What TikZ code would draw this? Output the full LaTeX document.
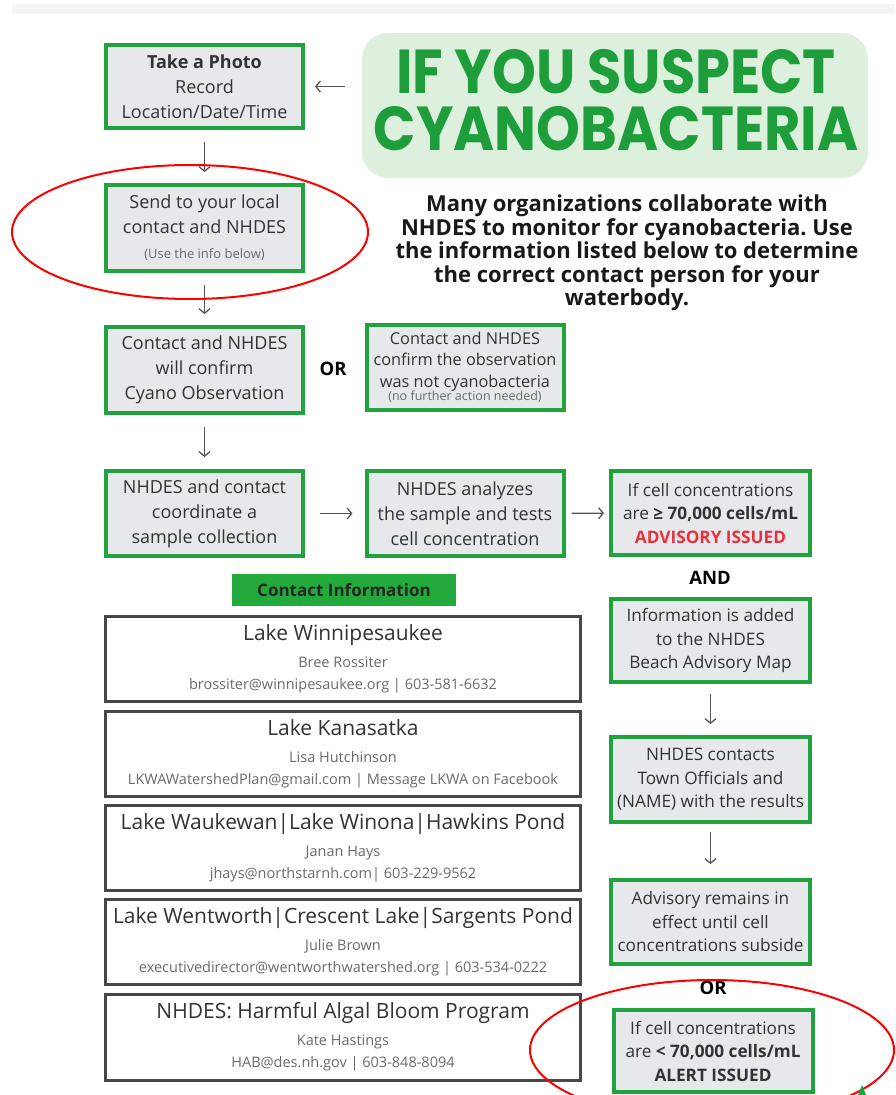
\documentclass[tikz,border=0pt]{standalone}
\usepackage{fontspec}
\usepackage{graphicx}
\setmainfont{Open Sans}
\newfontfamily\titlefont{Poppins}
\usetikzlibrary{arrows.meta}
\frenchspacing
\definecolor{gborder}{HTML}{22A23C}
\definecolor{boxfill}{HTML}{E6E8EC}
\definecolor{titlebg}{HTML}{DDEFDD}
\definecolor{titlegreen}{HTML}{1E9E3A}
\definecolor{txt}{HTML}{333333}
\definecolor{advred}{HTML}{E5323C}
\definecolor{cborder}{HTML}{474747}
\definecolor{subgray}{HTML}{6A6A6A}
\definecolor{banner}{HTML}{22AA3C}
\definecolor{arrgray}{HTML}{555555}
\begin{document}
\frenchspacing
\begin{tikzpicture}[x=1pt,y=-1pt,
  gbox/.style={draw=gborder, line width=4pt, fill=boxfill, minimum width=197pt, minimum height=84pt, align=center, text=txt, font=\fontsize{18}{25}\selectfont, inner sep=0pt},
  rbox/.style={gbox, font=\fontsize{17.2}{23.5}\selectfont},
  cbox/.style={draw=cborder, line width=3pt, fill=white, minimum width=475pt, minimum height=85pt, align=center, text=txt, font=\fontsize{14.5}{22}\selectfont, inner sep=0pt},
  arr/.style={draw=arrgray, line width=1.3pt, -{Straight Barb[length=4.5pt,width=11pt]}},
  ring/.style={draw=red, line width=2pt},
  conj/.style={font=\bfseries\fontsize{18.5}{20}\selectfont, text=black}
]
\useasboundingbox (0,0) rectangle (895,1095);
\fill[white] (0,0) rectangle (895,1095);
\fill[black!4] (12,4) rectangle (895,14);

% title
\node[fill=titlebg, rounded corners=26pt, minimum width=506pt, minimum height=145pt, inner sep=0pt] (title) at (615,105.5) {};
\node[text=titlegreen, align=center, font=\titlefont\bfseries\fontsize{62}{57}\selectfont] (titletext) at (616,100) {\scalebox{0.9}[1]{IF YOU SUSPECT}\\\scalebox{0.9}[1]{CYANOBACTERIA}};

\node[align=center, text=black!90, font=\bfseries\fontsize{22}{23.5}\selectfont] (para) at (627,253) {Many organizations collaborate with\\NHDES to monitor for cyanobacteria. Use\\the information listed below to determine\\the correct contact person for your\\waterbody.};

% left column
\node[gbox, minimum height=83pt] (b1) at (204.5,86.5) {\textbf{Take a Photo}\\Record\\Location/Date/Time};
\node[gbox, minimum height=86pt] (b2) at (204.5,228) {Send to your local\\contact and NHDES\\{\fontsize{13}{12}\selectfont\color{subgray}(Use the info below)}};
\node[gbox, minimum height=86pt] (b3) at (204.5,370) {Contact and NHDES\\will confirm\\Cyano Observation};
\node[gbox, minimum height=85pt, font=\fontsize{16.3}{21.5}\selectfont] (b4) at (465,367.5) {Contact and NHDES\\confirm the observation\\was not cyanobacteria\\[-8pt]{\fontsize{12.5}{12}\selectfont\color{subgray}(no further action needed)}};
\node[conj] (or1) at (333,369) {OR};
\node[gbox, minimum height=85pt] (b5) at (204.5,513.5) {NHDES and contact\\coordinate a\\sample collection};
\node[gbox, minimum height=85pt] (b6) at (465,513.5) {NHDES analyzes\\the sample and tests\\cell concentration};

% right column
\node[rbox, minimum height=84pt, minimum width=199pt] (b7) at (710.5,513) {If cell concentrations\\are \textbf{≥ 70,000 cells/mL}\\\textcolor{advred}{\textbf{ADVISORY ISSUED}}};
\node[conj] (and) at (710,578) {AND};
\node[rbox, minimum height=83pt, minimum width=199pt] (b8) at (710.5,640.5) {Information is added\\to the NHDES\\Beach Advisory Map};
\node[rbox, minimum height=85pt, minimum width=199pt] (b9) at (710.5,779.5) {NHDES contacts\\Town Officials and\\(NAME) with the results};
\node[rbox, minimum height=84pt, minimum width=199pt] (b10) at (710.5,922) {Advisory remains in\\effect until cell\\concentrations subside};
\node[conj] (or2) at (713,988) {OR};
\node[rbox, minimum height=82pt, minimum width=199pt] (b11) at (713,1051) {If cell concentrations\\are \textbf{< 70,000 cells/mL}\\\textbf{ALERT ISSUED}};

% arrows
\draw[arr, shorten <=17pt, shorten >=10pt] (title.west |- b1.east) -- (b1.east);
\draw[arr, shorten <=12pt, shorten >=11pt] (b1) -- (b2);
\draw[arr, shorten <=12pt, shorten >=11pt] (b2) -- (b3);
\draw[arr, shorten <=12pt, shorten >=12pt] (b3) -- (b5);
\draw[arr, shorten <=15pt, shorten >=12pt] (b5) -- (b6);
\draw[arr, shorten <=6pt, shorten >=5pt] (b6) -- (b7);
\draw[arr, shorten <=10pt, shorten >=11pt] (b8) -- (b9);
\draw[arr, shorten <=8pt, shorten >=14pt] (b9) -- (b10);

% contacts
\node[fill=banner, minimum width=224pt, minimum height=32pt, inner sep=0pt, font=\bfseries\fontsize{17}{18}\selectfont, text=black!85] (banner) at (344,590) {Contact Information};
\node[cbox, minimum height=85pt] (c1) at (343,658.5) {{\fontsize{21}{24}\selectfont Lake Winnipesaukee}\\[5pt]{\color{subgray}Bree Rossiter}\\{\color{subgray}brossiter@winnipesaukee.org | 603-581-6632}};
\node[cbox, minimum height=85pt] (c2) at (343,753.5) {{\fontsize{21}{24}\selectfont Lake Kanasatka}\\[5pt]{\color{subgray}Lisa Hutchinson}\\{\color{subgray}LKWAWatershedPlan@gmail.com | Message LKWA on Facebook}};
\node[cbox, minimum height=85pt] (c3) at (343,847.5) {{\fontsize{21}{24}\selectfont Lake Waukewan|Lake Winona|Hawkins Pond}\\[5pt]{\color{subgray}Janan Hays}\\{\color{subgray}jhays@northstarnh.com| 603-229-9562}};
\node[cbox, minimum height=85pt] (c4) at (343,941.5) {{\fontsize{21}{24}\selectfont Lake Wentworth|Crescent Lake|Sargents Pond}\\[5pt]{\color{subgray}Julie Brown}\\{\color{subgray}executivedirector@wentworthwatershed.org | 603-534-0222}};
\node[cbox, minimum height=86pt] (c5) at (343,1037) {{\fontsize{21}{24}\selectfont NHDES: Harmful Algal Bloom Program}\\[5pt]{\color{subgray}Kate Hastings}\\{\color{subgray}HAB@des.nh.gov | 603-848-8094}};

% red ellipses
\draw[ring] (190,232) ellipse [x radius=178pt, y radius=67pt];
\draw[ring] (712,1050) ellipse [x radius=182pt, y radius=70pt];
\fill[gborder] (858,1095) -- (862,1085) -- (866,1095) -- cycle;
\end{tikzpicture}
\end{document}
